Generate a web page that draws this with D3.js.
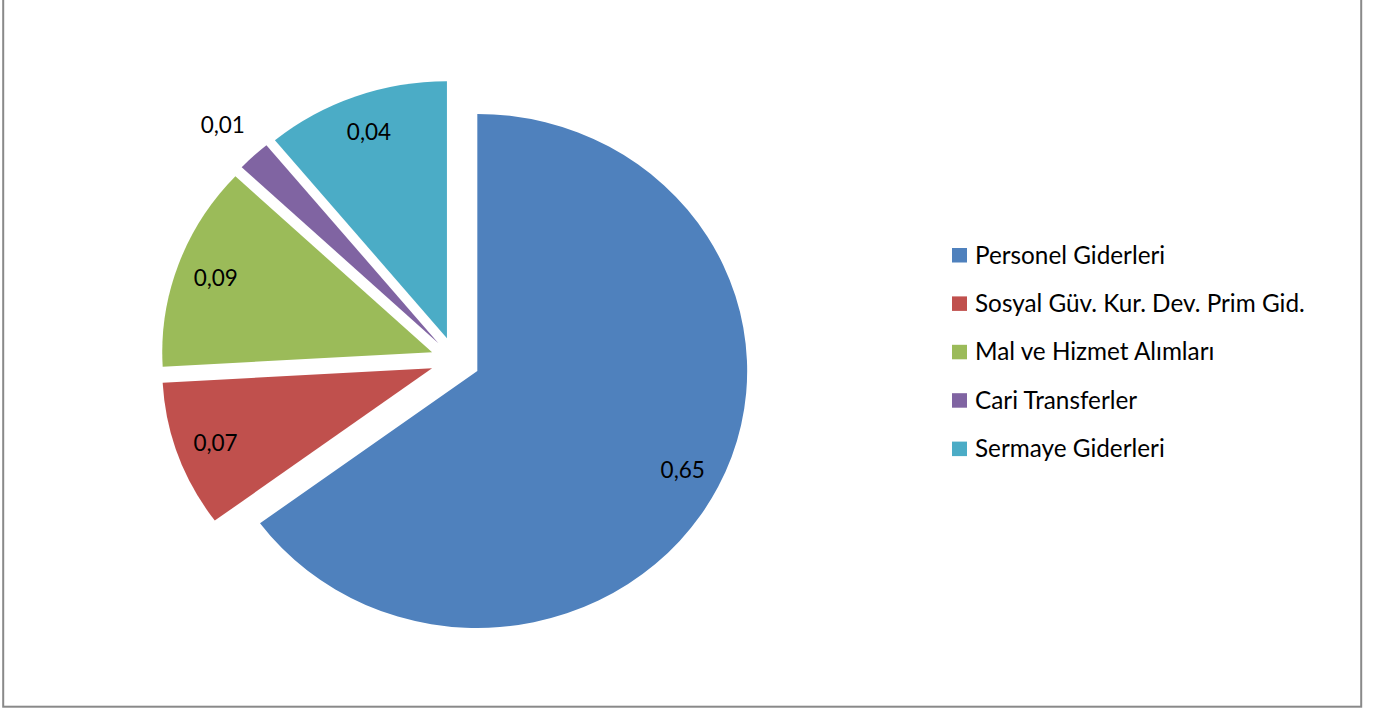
<!DOCTYPE html>
<html>
<head>
<meta charset="utf-8">
<script src="https://cdn.jsdelivr.net/npm/d3@7"></script>
<style>
  body { margin: 0; background: #fff; }
  svg text { font-family: Lato, "Open Sans", sans-serif; fill: #000; }
</style>
</head>
<body>
<div id="chart"></div>
<script>
// categories, in drawing order (clockwise from 12 o'clock)
var categories = ["Personel Giderleri", "Sosyal Güv. Kur. Dev. Prim Gid.", "Mal ve Hizmet Alımları", "Cari Transferler", "Sermaye Giderleri"];
// slice sizes (share of the full circle)
var shares = [0.649, 0.092, 0.129, 0.020, 0.110];
// data labels printed on the slices
var labelValues = [0.65, 0.07, 0.09, 0.01, 0.04];
var colors = ["#4F81BD", "#C0504D", "#9BBB59", "#8064A2", "#4BACC6"];

var width = 1381, height = 709;
var cx = 455.3, cy = 360.3,   // pie centre before explosion
    radius = 257,
    explode = 23.5,
    stretchX = 1.05;          // chart was stretched a bit horizontally

var svg = d3.select("#chart").append("svg")
  .attr("width", width)
  .attr("height", height);

// chart border (top edge is cut off)
svg.append("rect")
  .attr("x", 3.2).attr("y", -10)
  .attr("width", 1358).attr("height", 716.7)
  .attr("fill", "none")
  .attr("stroke", "#898989")
  .attr("stroke-width", 2);

var pie = d3.pie().sort(null).value(function(d) { return d; });
var arcs = pie(shares);

var arc = d3.arc().innerRadius(0).outerRadius(radius);

var pieG = svg.append("g")
  .attr("transform", "translate(" + cx + "," + cy + ") scale(" + stretchX + ",1)");

function mid(d) { return (d.startAngle + d.endAngle) / 2; }

pieG.selectAll("path")
  .data(arcs)
  .enter()
  .append("path")
  .attr("d", arc)
  .attr("fill", function(d, i) { return colors[i]; })
  .attr("transform", function(d) {
    var m = mid(d);
    return "translate(" + (explode * Math.sin(m)) + "," + (-explode * Math.cos(m)) + ")";
  });

// data labels: inside the slice, or just outside when the slice is too thin
var fmt = function(v) { return d3.format(".2f")(v).replace(".", ","); };
function labelR(d) {
  return (d.endAngle - d.startAngle) < 0.2 ? radius + 43 : radius * 0.853;
}
svg.append("g").selectAll("text")
  .data(arcs)
  .enter()
  .append("text")
  .attr("text-anchor", "middle")
  .attr("dominant-baseline", "central")
  .style("font-size", "22.5px")
  .attr("x", function(d) { return cx + stretchX * (explode + labelR(d)) * Math.sin(mid(d)); })
  .attr("y", function(d) { return cy - (explode + labelR(d)) * Math.cos(mid(d)); })
  .text(function(d, i) { return fmt(labelValues[i]); });

// legend
var legend = svg.append("g")
  .attr("transform", "translate(952,248)");

var rows = legend.selectAll("g")
  .data(categories)
  .enter()
  .append("g")
  .attr("transform", function(d, i) { return "translate(0," + (i * 48.4) + ")"; });

rows.append("rect")
  .attr("width", 15).attr("height", 14.5)
  .attr("fill", function(d, i) { return colors[i]; });

rows.append("text")
  .attr("x", 23)
  .attr("y", 15.5)
  .style("font-size", "24.3px")
  .text(function(d) { return d; });
</script>
</body>
</html>
